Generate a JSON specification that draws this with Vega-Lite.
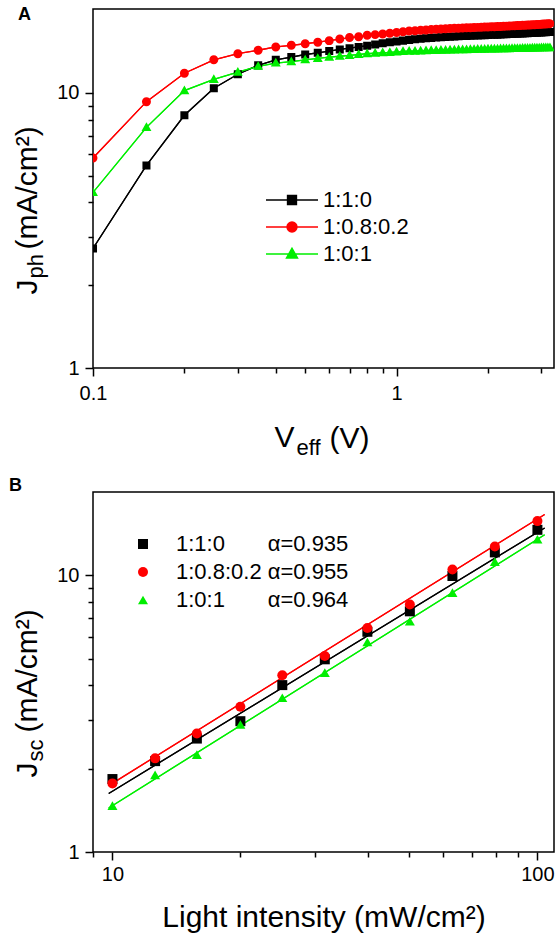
{
  "$schema": "https://vega.github.io/schema/vega-lite/v6.json",
  "padding": {"left": 8, "top": 5, "right": 2, "bottom": 0},
  "spacing": 17,
  "background": "white",
  "resolve": {"scale": {"shape": "independent", "color": "independent", "stroke": "independent"}, "legend": {"shape": "independent", "color": "independent", "stroke": "independent"}},
  "datasets": {
    "a": [
      {"V":0.1,"s":"1:1:0","J":2.72},{"V":0.15,"s":"1:1:0","J":5.45},{"V":0.2,"s":"1:1:0","J":8.3},{"V":0.25,"s":"1:1:0","J":10.4},{"V":0.3,"s":"1:1:0","J":11.7},{"V":0.35,"s":"1:1:0","J":12.6},{"V":0.4,"s":"1:1:0","J":13.2},{"V":0.45,"s":"1:1:0","J":13.5},{"V":0.5,"s":"1:1:0","J":13.8},{"V":0.55,"s":"1:1:0","J":14.0},{"V":0.6,"s":"1:1:0","J":14.2},{"V":0.65,"s":"1:1:0","J":14.4},{"V":0.7,"s":"1:1:0","J":14.55},{"V":0.75,"s":"1:1:0","J":14.7},{"V":0.8,"s":"1:1:0","J":14.85},{"V":0.85,"s":"1:1:0","J":15.0},{"V":0.9,"s":"1:1:0","J":15.15},{"V":0.95,"s":"1:1:0","J":15.3},{"V":1.0,"s":"1:1:0","J":15.4},{"V":1.05,"s":"1:1:0","J":15.5},{"V":1.1,"s":"1:1:0","J":15.6},{"V":1.15,"s":"1:1:0","J":15.68},{"V":1.2,"s":"1:1:0","J":15.75},{"V":1.25,"s":"1:1:0","J":15.8},{"V":1.3,"s":"1:1:0","J":15.85},{"V":1.35,"s":"1:1:0","J":15.9},{"V":1.4,"s":"1:1:0","J":15.94},{"V":1.45,"s":"1:1:0","J":15.98},{"V":1.5,"s":"1:1:0","J":16.02},{"V":1.55,"s":"1:1:0","J":16.05},{"V":1.6,"s":"1:1:0","J":16.08},{"V":1.65,"s":"1:1:0","J":16.1},{"V":1.7,"s":"1:1:0","J":16.12},{"V":1.75,"s":"1:1:0","J":16.15},{"V":1.8,"s":"1:1:0","J":16.17},{"V":1.85,"s":"1:1:0","J":16.19},{"V":1.9,"s":"1:1:0","J":16.21},{"V":1.95,"s":"1:1:0","J":16.23},{"V":2.0,"s":"1:1:0","J":16.25},{"V":2.05,"s":"1:1:0","J":16.27},{"V":2.1,"s":"1:1:0","J":16.29},{"V":2.15,"s":"1:1:0","J":16.3},{"V":2.2,"s":"1:1:0","J":16.32},{"V":2.25,"s":"1:1:0","J":16.34},{"V":2.3,"s":"1:1:0","J":16.36},{"V":2.35,"s":"1:1:0","J":16.38},{"V":2.4,"s":"1:1:0","J":16.4},{"V":2.45,"s":"1:1:0","J":16.41},{"V":2.5,"s":"1:1:0","J":16.43},{"V":2.55,"s":"1:1:0","J":16.45},{"V":2.6,"s":"1:1:0","J":16.47},{"V":2.65,"s":"1:1:0","J":16.48},{"V":2.7,"s":"1:1:0","J":16.5},{"V":2.75,"s":"1:1:0","J":16.52},{"V":2.8,"s":"1:1:0","J":16.54},{"V":2.85,"s":"1:1:0","J":16.55},{"V":2.9,"s":"1:1:0","J":16.57},{"V":2.95,"s":"1:1:0","J":16.59},{"V":3.0,"s":"1:1:0","J":16.6},{"V":3.05,"s":"1:1:0","J":16.62},{"V":3.1,"s":"1:1:0","J":16.64},{"V":3.15,"s":"1:1:0","J":16.65},{"V":3.2,"s":"1:1:0","J":16.67},
      {"V":0.1,"s":"1:0.8:0.2","J":5.8},{"V":0.15,"s":"1:0.8:0.2","J":9.3},{"V":0.2,"s":"1:0.8:0.2","J":11.8},{"V":0.25,"s":"1:0.8:0.2","J":13.2},{"V":0.3,"s":"1:0.8:0.2","J":13.9},{"V":0.35,"s":"1:0.8:0.2","J":14.3},{"V":0.4,"s":"1:0.8:0.2","J":14.7},{"V":0.45,"s":"1:0.8:0.2","J":14.9},{"V":0.5,"s":"1:0.8:0.2","J":15.1},{"V":0.55,"s":"1:0.8:0.2","J":15.3},{"V":0.6,"s":"1:0.8:0.2","J":15.5},{"V":0.65,"s":"1:0.8:0.2","J":15.7},{"V":0.7,"s":"1:0.8:0.2","J":15.9},{"V":0.75,"s":"1:0.8:0.2","J":16.0},{"V":0.8,"s":"1:0.8:0.2","J":16.2},{"V":0.85,"s":"1:0.8:0.2","J":16.3},{"V":0.9,"s":"1:0.8:0.2","J":16.4},{"V":0.95,"s":"1:0.8:0.2","J":16.5},{"V":1.0,"s":"1:0.8:0.2","J":16.6},{"V":1.05,"s":"1:0.8:0.2","J":16.7},{"V":1.1,"s":"1:0.8:0.2","J":16.8},{"V":1.15,"s":"1:0.8:0.2","J":16.85},{"V":1.2,"s":"1:0.8:0.2","J":16.9},{"V":1.25,"s":"1:0.8:0.2","J":16.95},{"V":1.3,"s":"1:0.8:0.2","J":17.0},{"V":1.35,"s":"1:0.8:0.2","J":17.05},{"V":1.4,"s":"1:0.8:0.2","J":17.1},{"V":1.45,"s":"1:0.8:0.2","J":17.12},{"V":1.5,"s":"1:0.8:0.2","J":17.15},{"V":1.55,"s":"1:0.8:0.2","J":17.18},{"V":1.6,"s":"1:0.8:0.2","J":17.2},{"V":1.65,"s":"1:0.8:0.2","J":17.22},{"V":1.7,"s":"1:0.8:0.2","J":17.25},{"V":1.75,"s":"1:0.8:0.2","J":17.27},{"V":1.8,"s":"1:0.8:0.2","J":17.3},{"V":1.85,"s":"1:0.8:0.2","J":17.32},{"V":1.9,"s":"1:0.8:0.2","J":17.34},{"V":1.95,"s":"1:0.8:0.2","J":17.36},{"V":2.0,"s":"1:0.8:0.2","J":17.38},{"V":2.05,"s":"1:0.8:0.2","J":17.4},{"V":2.1,"s":"1:0.8:0.2","J":17.42},{"V":2.15,"s":"1:0.8:0.2","J":17.44},{"V":2.2,"s":"1:0.8:0.2","J":17.46},{"V":2.25,"s":"1:0.8:0.2","J":17.48},{"V":2.3,"s":"1:0.8:0.2","J":17.5},{"V":2.35,"s":"1:0.8:0.2","J":17.52},{"V":2.4,"s":"1:0.8:0.2","J":17.54},{"V":2.45,"s":"1:0.8:0.2","J":17.56},{"V":2.5,"s":"1:0.8:0.2","J":17.58},{"V":2.55,"s":"1:0.8:0.2","J":17.6},{"V":2.6,"s":"1:0.8:0.2","J":17.62},{"V":2.65,"s":"1:0.8:0.2","J":17.64},{"V":2.7,"s":"1:0.8:0.2","J":17.66},{"V":2.75,"s":"1:0.8:0.2","J":17.68},{"V":2.8,"s":"1:0.8:0.2","J":17.7},{"V":2.85,"s":"1:0.8:0.2","J":17.72},{"V":2.9,"s":"1:0.8:0.2","J":17.74},{"V":2.95,"s":"1:0.8:0.2","J":17.76},{"V":3.0,"s":"1:0.8:0.2","J":17.78},{"V":3.05,"s":"1:0.8:0.2","J":17.8},{"V":3.1,"s":"1:0.8:0.2","J":17.82},{"V":3.15,"s":"1:0.8:0.2","J":17.84},{"V":3.2,"s":"1:0.8:0.2","J":17.86},
      {"V":0.1,"s":"1:0:1","J":4.35},{"V":0.15,"s":"1:0:1","J":7.5},{"V":0.2,"s":"1:0:1","J":10.2},{"V":0.25,"s":"1:0:1","J":11.2},{"V":0.3,"s":"1:0:1","J":11.9},{"V":0.35,"s":"1:0:1","J":12.5},{"V":0.4,"s":"1:0:1","J":12.85},{"V":0.45,"s":"1:0:1","J":13.0},{"V":0.5,"s":"1:0:1","J":13.2},{"V":0.55,"s":"1:0:1","J":13.35},{"V":0.6,"s":"1:0:1","J":13.5},{"V":0.65,"s":"1:0:1","J":13.6},{"V":0.7,"s":"1:0:1","J":13.7},{"V":0.75,"s":"1:0:1","J":13.8},{"V":0.8,"s":"1:0:1","J":13.9},{"V":0.85,"s":"1:0:1","J":13.95},{"V":0.9,"s":"1:0:1","J":14.0},{"V":0.95,"s":"1:0:1","J":14.05},{"V":1.0,"s":"1:0:1","J":14.1},{"V":1.05,"s":"1:0:1","J":14.15},{"V":1.1,"s":"1:0:1","J":14.18},{"V":1.15,"s":"1:0:1","J":14.2},{"V":1.2,"s":"1:0:1","J":14.22},{"V":1.25,"s":"1:0:1","J":14.25},{"V":1.3,"s":"1:0:1","J":14.27},{"V":1.35,"s":"1:0:1","J":14.29},{"V":1.4,"s":"1:0:1","J":14.3},{"V":1.45,"s":"1:0:1","J":14.32},{"V":1.5,"s":"1:0:1","J":14.33},{"V":1.55,"s":"1:0:1","J":14.35},{"V":1.6,"s":"1:0:1","J":14.36},{"V":1.65,"s":"1:0:1","J":14.37},{"V":1.7,"s":"1:0:1","J":14.38},{"V":1.75,"s":"1:0:1","J":14.4},{"V":1.8,"s":"1:0:1","J":14.41},{"V":1.85,"s":"1:0:1","J":14.42},{"V":1.9,"s":"1:0:1","J":14.43},{"V":1.95,"s":"1:0:1","J":14.44},{"V":2.0,"s":"1:0:1","J":14.45},{"V":2.05,"s":"1:0:1","J":14.46},{"V":2.1,"s":"1:0:1","J":14.47},{"V":2.15,"s":"1:0:1","J":14.47},{"V":2.2,"s":"1:0:1","J":14.48},{"V":2.25,"s":"1:0:1","J":14.49},{"V":2.3,"s":"1:0:1","J":14.5},{"V":2.35,"s":"1:0:1","J":14.5},{"V":2.4,"s":"1:0:1","J":14.51},{"V":2.45,"s":"1:0:1","J":14.52},{"V":2.5,"s":"1:0:1","J":14.53},{"V":2.55,"s":"1:0:1","J":14.53},{"V":2.6,"s":"1:0:1","J":14.54},{"V":2.65,"s":"1:0:1","J":14.55},{"V":2.7,"s":"1:0:1","J":14.56},{"V":2.75,"s":"1:0:1","J":14.56},{"V":2.8,"s":"1:0:1","J":14.57},{"V":2.85,"s":"1:0:1","J":14.58},{"V":2.9,"s":"1:0:1","J":14.58},{"V":2.95,"s":"1:0:1","J":14.59},{"V":3.0,"s":"1:0:1","J":14.6},{"V":3.05,"s":"1:0:1","J":14.6},{"V":3.1,"s":"1:0:1","J":14.61},{"V":3.15,"s":"1:0:1","J":14.62},{"V":3.2,"s":"1:0:1","J":14.62}
    ],
    "b": [
      {"I":10,"s":"1:1:0","J":1.835},{"I":12.6,"s":"1:1:0","J":2.13},{"I":15.8,"s":"1:1:0","J":2.57},{"I":20,"s":"1:1:0","J":2.97},{"I":25.1,"s":"1:1:0","J":4.01},{"I":31.6,"s":"1:1:0","J":4.97},{"I":39.8,"s":"1:1:0","J":6.25},{"I":50.1,"s":"1:1:0","J":7.41},{"I":63.1,"s":"1:1:0","J":9.94},{"I":79.4,"s":"1:1:0","J":12.1},{"I":100,"s":"1:1:0","J":14.6},
      {"I":10,"s":"1:0.8:0.2","J":1.77},{"I":12.6,"s":"1:0.8:0.2","J":2.18},{"I":15.8,"s":"1:0.8:0.2","J":2.68},{"I":20,"s":"1:0.8:0.2","J":3.35},{"I":25.1,"s":"1:0.8:0.2","J":4.35},{"I":31.6,"s":"1:0.8:0.2","J":5.11},{"I":39.8,"s":"1:0.8:0.2","J":6.45},{"I":50.1,"s":"1:0.8:0.2","J":7.84},{"I":63.1,"s":"1:0.8:0.2","J":10.5},{"I":79.4,"s":"1:0.8:0.2","J":12.7},{"I":100,"s":"1:0.8:0.2","J":15.7},
      {"I":10,"s":"1:0:1","J":1.47},{"I":12.6,"s":"1:0:1","J":1.9},{"I":15.8,"s":"1:0:1","J":2.25},{"I":20,"s":"1:0:1","J":2.89},{"I":25.1,"s":"1:0:1","J":3.61},{"I":31.6,"s":"1:0:1","J":4.45},{"I":39.8,"s":"1:0:1","J":5.74},{"I":50.1,"s":"1:0:1","J":6.82},{"I":63.1,"s":"1:0:1","J":8.66},{"I":79.4,"s":"1:0:1","J":11.2},{"I":100,"s":"1:0:1","J":13.5}
    ],
    "bfit": [
      {"I":9.8,"s":"1:1:0","J":1.628},{"I":104,"s":"1:1:0","J":14.83},
      {"I":9.8,"s":"1:0.8:0.2","J":1.737},{"I":104,"s":"1:0.8:0.2","J":16.58},
      {"I":9.8,"s":"1:0:1","J":1.442},{"I":104,"s":"1:0:1","J":14.01}
    ]
  },
  "vconcat": [
    {
      "title": {"text": "A", "anchor": "start", "frame": "group", "fontSize": 18, "fontWeight": "bold", "dx": -75, "dy": 15, "offset": 0},
      "width": 461,
      "height": 359,
      "data": {"name": "a"},
      "resolve": {"axis": {"x": "independent", "y": "independent"}, "legend": {"shape": "independent", "color": "independent", "stroke": "independent"}},
      "layer": [
        {
          "mark": {"type": "line", "strokeWidth": 1.3, "clip": true},
          "encoding": {
            "x": {"field": "V", "type": "quantitative", "scale": {"type": "log", "domain": [0.1, 3.3], "nice": false},
                  "axis": {"orient": "top", "labels": false, "ticks": false, "domain": false, "grid": false, "minExtent": 0, "title": "eff", "titleFontSize": 22, "titleX": 203, "titleY": 445, "titleAngle": 0, "titleAlign": "left", "titleBaseline": "alphabetic"}},
            "y": {"field": "J", "type": "quantitative", "scale": {"type": "log", "domain": [1, 20.2], "nice": false},
                  "axis": {"orient": "right", "labels": false, "ticks": false, "domain": false, "grid": false, "minExtent": 0, "title": "ph", "titleFontSize": 22, "titleX": -512, "titleY": 269, "titleAngle": -90, "titleAlign": "left", "titleBaseline": "alphabetic"}},
            "color": {"field": "s", "type": "nominal", "scale": {"domain": ["1:1:0", "1:0.8:0.2", "1:0:1"], "range": ["#000000", "#ff0000", "#00ee00"]}, "legend": null}
          }
        },
        {
          "mark": {"type": "line", "strokeWidth": 1.3, "clip": true},
          "encoding": {
            "x": {"field": "V", "type": "quantitative", "scale": {"type": "log", "domain": [0.1, 3.3], "nice": false},
                  "axis": {"orient": "bottom", "labels": false, "ticks": false, "domain": false, "grid": false, "minExtent": 0, "title": "(V)", "titleX": 236, "titleY": 79, "titleAngle": 0, "titleAlign": "left", "titleBaseline": "alphabetic"}},
            "y": {"field": "J", "type": "quantitative", "scale": {"type": "log", "domain": [1, 20.2], "nice": false},
                  "axis": {"orient": "left", "labels": false, "ticks": false, "domain": false, "grid": false, "minExtent": 0, "title": "(mA/cm²)", "titleX": -57, "titleY": 240, "titleAngle": -90, "titleAlign": "left", "titleBaseline": "alphabetic"}},
            "color": {"field": "s", "type": "nominal", "scale": {"domain": ["1:1:0", "1:0.8:0.2", "1:0:1"], "range": ["#000000", "#ff0000", "#00ee00"]}, "legend": null}
          }
        },
        {
          "mark": {"type": "point", "filled": true, "opacity": 1, "strokeWidth": 0, "size": 557, "clip": true},
          "encoding": {
            "x": {"field": "V", "type": "quantitative", "scale": {"type": "log", "domain": [0.1, 3.3], "nice": false},
                  "axis": {"orient": "bottom", "values": [0.1, 0.2, 0.3, 0.4, 0.5, 0.6, 0.7, 0.8, 0.9, 1, 2, 3],
                           "labelExpr": "datum.value == 0.1 ? '0.1' : datum.value == 1 ? '1' : ''",
                           "tickSize": {"condition": {"test": "datum.value == 0.1 || datum.value == 1", "value": 8}, "value": 5},
                           "labelPadding": 7, "title": "V", "titleX": 181, "titleY": 78, "titleAngle": 0, "titleAlign": "left", "titleBaseline": "alphabetic"}},
            "y": {"field": "J", "type": "quantitative", "scale": {"type": "log", "domain": [1, 20.2], "nice": false},
                  "axis": {"orient": "left", "values": [1, 2, 3, 4, 5, 6, 7, 8, 9, 10],
                           "labelExpr": "datum.value == 1 ? '1' : datum.value == 10 ? '10' : ''",
                           "tickSize": {"condition": {"test": "datum.value == 1 || datum.value == 10", "value": 8}, "value": 5},
                           "labelPadding": 6, "title": "J", "titleX": -57, "titleY": 285, "titleAngle": -90, "titleAlign": "left", "titleBaseline": "alphabetic"}},
            "color": {"field": "s", "type": "nominal", "scale": {"domain": ["1:1:0", "1:0.8:0.2", "1:0:1"], "range": ["#000000", "#ff0000", "#00ee00"]},
                      "legend": {"title": null, "orient": "none", "legendX": 185, "legendY": 177, "symbolSize": 676, "symbolStrokeWidth": 1.5, "labelOffset": 17, "rowPadding": 2, "padding": 0, "symbolOffset": 0, "labelFontSize": 22, "labelLimit": 300}},
            "stroke": {"field": "s", "type": "nominal", "scale": {"domain": ["1:1:0", "1:0.8:0.2", "1:0:1"], "range": ["#000000", "#ff0000", "#00ee00"]},
                      "legend": {"title": null, "orient": "none", "legendX": 185, "legendY": 177, "symbolSize": 676, "symbolStrokeWidth": 1.5, "labelOffset": 17, "rowPadding": 2, "padding": 0, "symbolOffset": 0, "labelFontSize": 22, "labelLimit": 300}},
            "shape": {"field": "s", "type": "nominal", "scale": {"domain": ["1:1:0", "1:0.8:0.2", "1:0:1"], "range": ["M-2,0H2M-0.34,-0.34H0.34V0.34H-0.34Z", "M-2,0H2M0.38,0A0.38,0.38,0,1,1,-0.38,0A0.38,0.38,0,1,1,0.38,0Z", "M-2,0H2M0,-0.44L0.42,0.3H-0.42Z"]},
                      "legend": {"title": null, "orient": "none", "legendX": 185, "legendY": 177, "symbolSize": 676, "symbolStrokeWidth": 1.5, "labelOffset": 17, "rowPadding": 2, "padding": 0, "symbolOffset": 0, "labelFontSize": 22, "labelLimit": 300}}
          }
        }
      ]
    },
    {
      "title": {"text": "B", "anchor": "start", "frame": "group", "fontSize": 18, "fontWeight": "bold", "dx": -84, "dy": 3, "offset": 0},
      "width": 461,
      "height": 360,
      "resolve": {"axis": {"x": "independent", "y": "independent"}, "legend": {"shape": "independent", "color": "independent", "stroke": "independent"}},
      "layer": [
        {
          "data": {"name": "bfit"},
          "mark": {"type": "line", "strokeWidth": 1.3, "clip": true},
          "encoding": {
            "x": {"field": "I", "type": "quantitative", "scale": {"type": "log", "domain": [9, 109.4], "nice": false}, "axis": null},
            "y": {"field": "J", "type": "quantitative", "scale": {"type": "log", "domain": [1, 20], "nice": false},
                  "axis": {"orient": "right", "labels": false, "ticks": false, "domain": false, "grid": false, "minExtent": 0, "title": "sc", "titleFontSize": 22, "titleX": -512, "titleY": 269, "titleAngle": -90, "titleAlign": "left", "titleBaseline": "alphabetic"}},
            "color": {"field": "s", "type": "nominal", "scale": {"domain": ["1:1:0", "1:0.8:0.2", "1:0:1"], "range": ["#000000", "#ff0000", "#00ee00"]}, "legend": null}
          }
        },
        {
          "data": {"name": "bfit"},
          "mark": {"type": "line", "strokeWidth": 1.3, "clip": true},
          "encoding": {
            "x": {"field": "I", "type": "quantitative", "scale": {"type": "log", "domain": [9, 109.4], "nice": false}, "axis": null},
            "y": {"field": "J", "type": "quantitative", "scale": {"type": "log", "domain": [1, 20], "nice": false},
                  "axis": {"orient": "left", "labels": false, "ticks": false, "domain": false, "grid": false, "minExtent": 0, "title": "(mA/cm²)", "titleX": -57, "titleY": 240, "titleAngle": -90, "titleAlign": "left", "titleBaseline": "alphabetic"}},
            "color": {"field": "s", "type": "nominal", "scale": {"domain": ["1:1:0", "1:0.8:0.2", "1:0:1"], "range": ["#000000", "#ff0000", "#00ee00"]}, "legend": null}
          }
        },
        {
          "data": {"name": "b"},
          "mark": {"type": "point", "filled": true, "opacity": 1, "size": 100, "clip": true},
          "encoding": {
            "x": {"field": "I", "type": "quantitative", "scale": {"type": "log", "domain": [9, 109.4], "nice": false},
                  "axis": {"orient": "bottom", "values": [9, 10, 20, 30, 40, 50, 60, 70, 80, 90, 100],
                           "labelExpr": "datum.value == 10 ? '10' : datum.value == 100 ? '100' : ''",
                           "tickSize": {"condition": {"test": "datum.value == 10 || datum.value == 100", "value": 8}, "value": 5},
                           "labelPadding": 4, "title": "Light intensity (mW/cm²)", "titlePadding": 18}},
            "y": {"field": "J", "type": "quantitative", "scale": {"type": "log", "domain": [1, 20], "nice": false},
                  "axis": {"orient": "left", "values": [1, 2, 3, 4, 5, 6, 7, 8, 9, 10],
                           "labelExpr": "datum.value == 1 ? '1' : datum.value == 10 ? '10' : ''",
                           "tickSize": {"condition": {"test": "datum.value == 1 || datum.value == 10", "value": 8}, "value": 5},
                           "labelPadding": 6, "title": "J", "titleX": -57, "titleY": 285, "titleAngle": -90, "titleAlign": "left", "titleBaseline": "alphabetic"}},
            "color": {"field": "s", "type": "nominal", "scale": {"domain": ["1:1:0", "1:0.8:0.2", "1:0:1"], "range": ["#000000", "#ff0000", "#00ee00"]},
                      "legend": {"title": null, "orient": "none", "legendX": 39, "legendY": 41, "symbolSize": 100, "labelOffset": 22, "rowPadding": 6, "padding": 0, "symbolOffset": 0, "labelFontSize": 22, "labelLimit": 400,
                                 "labelExpr": "datum.label == '1:1:0' ? '1:1:0\u00a0\u00a0\u00a0\u00a0\u00a0\u00a0\u00a0α=0.935' : datum.label == '1:0.8:0.2' ? '1:0.8:0.2\u00a0α=0.955' : '1:0:1\u00a0\u00a0\u00a0\u00a0\u00a0\u00a0\u00a0α=0.964'"}},
            "shape": {"field": "s", "type": "nominal", "scale": {"domain": ["1:1:0", "1:0.8:0.2", "1:0:1"], "range": ["square", "circle", "triangle-up"]},
                      "legend": {"title": null, "orient": "none", "legendX": 39, "legendY": 41, "symbolSize": 100, "labelOffset": 22, "rowPadding": 6, "padding": 0, "symbolOffset": 0, "labelFontSize": 22, "labelLimit": 400,
                                 "labelExpr": "datum.label == '1:1:0' ? '1:1:0\u00a0\u00a0\u00a0\u00a0\u00a0\u00a0\u00a0α=0.935' : datum.label == '1:0.8:0.2' ? '1:0.8:0.2\u00a0α=0.955' : '1:0:1\u00a0\u00a0\u00a0\u00a0\u00a0\u00a0\u00a0α=0.964'"}}
          }
        }
      ]
    }
  ],
  "config": {
    "font": "Liberation Sans",
    "view": {"stroke": "black", "strokeWidth": 1.5},
    "title": {"font": "Liberation Sans", "color": "black"},
    "axis": {"grid": false, "domain": false, "tickColor": "black", "tickWidth": 1.5, "labelFont": "Liberation Sans", "labelFontSize": 20, "labelColor": "black", "labelFlush": false, "labelOverlap": false, "titleFont": "Liberation Sans", "titleFontSize": 30, "titleFontWeight": "normal", "titleColor": "black"},
    "legend": {"labelFont": "Liberation Sans", "labelColor": "black"}
  }
}
